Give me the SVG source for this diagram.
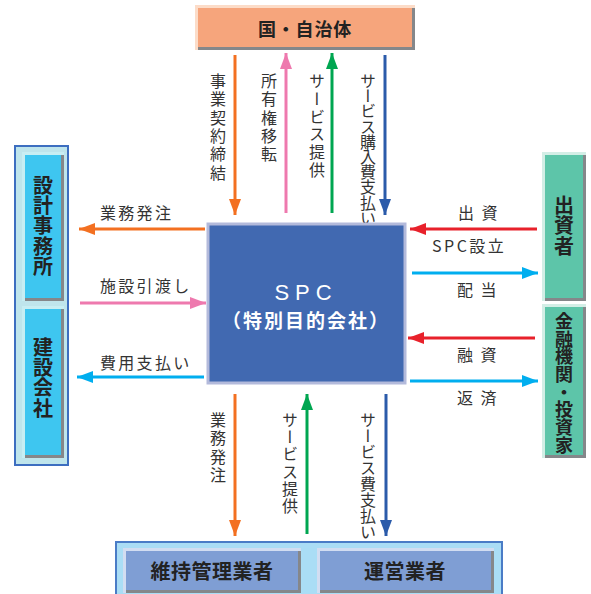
<svg xmlns="http://www.w3.org/2000/svg" width="591" height="594" viewBox="0 0 591 594">
<style>
.lbl{font-family:"Noto Sans CJK JP","Liberation Sans",sans-serif;font-size:16px;fill:#333;}
.v{writing-mode:vertical-rl;}
.nd{font-family:"Noto Sans CJK JP","Liberation Sans",sans-serif;font-weight:700;fill:#222;}
.ln{stroke-width:3;fill:none;}
.sh{fill:#85878a;}
</style>
<defs>
<marker id="mO" viewBox="0 0 16 12" refX="16" refY="6" markerWidth="16" markerHeight="12" markerUnits="userSpaceOnUse" orient="auto"><path d="M0,0L16,6L0,12z" fill="#F37021"/></marker>
<marker id="mP" viewBox="0 0 16 12" refX="16" refY="6" markerWidth="16" markerHeight="12" markerUnits="userSpaceOnUse" orient="auto"><path d="M0,0L16,6L0,12z" fill="#EE79AE"/></marker>
<marker id="mG" viewBox="0 0 16 12" refX="16" refY="6" markerWidth="16" markerHeight="12" markerUnits="userSpaceOnUse" orient="auto"><path d="M0,0L16,6L0,12z" fill="#00A651"/></marker>
<marker id="mB" viewBox="0 0 16 12" refX="16" refY="6" markerWidth="16" markerHeight="12" markerUnits="userSpaceOnUse" orient="auto"><path d="M0,0L16,6L0,12z" fill="#2B5BAA"/></marker>
<marker id="mR" viewBox="0 0 16 12" refX="16" refY="6" markerWidth="16" markerHeight="12" markerUnits="userSpaceOnUse" orient="auto"><path d="M0,0L16,6L0,12z" fill="#E8212B"/></marker>
<marker id="mC" viewBox="0 0 16 12" refX="16" refY="6" markerWidth="16" markerHeight="12" markerUnits="userSpaceOnUse" orient="auto"><path d="M0,0L16,6L0,12z" fill="#00AEEF"/></marker>
</defs>

<g id="connectors">
<line class="ln" stroke="#F37021" x1="235" y1="55" x2="235" y2="215" marker-end="url(#mO)"/>
<line class="ln" stroke="#EE79AE" x1="286" y1="213" x2="286" y2="53" marker-end="url(#mP)"/>
<line class="ln" stroke="#00A651" x1="332" y1="213" x2="332" y2="53" marker-end="url(#mG)"/>
<line class="ln" stroke="#2B5BAA" x1="385" y1="55" x2="385" y2="215" marker-end="url(#mB)"/>
<line class="ln" stroke="#F37021" x1="205" y1="229" x2="79" y2="229" marker-end="url(#mO)"/>
<line class="ln" stroke="#EE79AE" x1="80" y1="303" x2="206" y2="303" marker-end="url(#mP)"/>
<line class="ln" stroke="#00AEEF" x1="204" y1="377" x2="77" y2="377" marker-end="url(#mC)"/>
<line class="ln" stroke="#E8212B" x1="537" y1="229" x2="410" y2="229" marker-end="url(#mR)"/>
<line class="ln" stroke="#00AEEF" x1="412" y1="273" x2="538" y2="273" marker-end="url(#mC)"/>
<line class="ln" stroke="#E8212B" x1="535" y1="338" x2="408" y2="338" marker-end="url(#mR)"/>
<line class="ln" stroke="#00AEEF" x1="410" y1="381" x2="538" y2="381" marker-end="url(#mC)"/>
<line class="ln" stroke="#F37021" x1="235" y1="394" x2="235" y2="536" marker-end="url(#mO)"/>
<line class="ln" stroke="#00A651" x1="307" y1="534" x2="307" y2="394" marker-end="url(#mG)"/>
<line class="ln" stroke="#2B5BAA" x1="386" y1="394" x2="386" y2="536" marker-end="url(#mB)"/>
<text class="lbl v" x="218" y="73" letter-spacing="2.3">事業契約締結</text>
<text class="lbl v" x="269" y="73" letter-spacing="2.3">所有権移転</text>
<text class="lbl v" x="317" y="73" letter-spacing="1.8">サービス提供</text>
<text class="lbl v" x="368" y="73" font-size="15" letter-spacing="-0.8">サービス購入費支払い</text>
<text class="lbl" x="100" y="219" letter-spacing="2.3">業務発注</text>
<text class="lbl" x="100" y="292" letter-spacing="2.3">施設引渡し</text>
<text class="lbl" x="100" y="369" letter-spacing="2.3">費用支払い</text>
<text class="lbl" x="458" y="219" letter-spacing="2">出 資</text>
<text class="lbl" x="432" y="252" letter-spacing="2.5">SPC設立</text>
<text class="lbl" x="457" y="296" letter-spacing="2">配 当</text>
<text class="lbl" x="457" y="361" letter-spacing="2">融 資</text>
<text class="lbl" x="457" y="404" letter-spacing="2">返 済</text>
<text class="lbl v" x="218" y="412" letter-spacing="2.3">業務発注</text>
<text class="lbl v" x="290" y="412" letter-spacing="1.2">サービス提供</text>
<text class="lbl v" x="368" y="412" font-size="15">サービス費支払い</text>
</g>

<g id="node-kuni">
<rect x="195" y="5" width="220" height="45" fill="#FCDCC8"/>
<rect class="sh" x="198" y="8" width="217" height="42"/>
<rect x="198" y="8" width="214" height="39" fill="#F6A57C"/>
<text class="nd" x="305" y="36" font-size="18" text-anchor="middle" letter-spacing="0.8">国・自治体</text>
</g>

<g id="node-spc">
<rect x="208" y="224" width="197" height="159" fill="#4169B1" stroke="#B3BADB" stroke-width="3"/>
<text x="306" y="300" font-family="Liberation Sans,Arial,sans-serif" font-size="22" fill="#fff" text-anchor="middle" letter-spacing="6">SPC</text>
<text x="306" y="328" font-family="Noto Sans CJK JP,sans-serif" font-weight="700" font-size="19" fill="#fff" text-anchor="middle" letter-spacing="2">（特別目的会社）</text>
</g>

<g id="left-panel">
<rect x="15" y="146" width="53" height="319" fill="#BFE5EC" stroke="#3D6EC0" stroke-width="2"/>
</g>
<g id="node-sekkei">
<rect x="22" y="152" width="42" height="149" fill="#C8EEF3"/>
<rect class="sh" x="25" y="155" width="39" height="146"/>
<rect x="25" y="155" width="36" height="143" fill="#3EC6F0"/>
<text class="nd v" x="43" y="175" font-size="20" letter-spacing="0.4">設計事務所</text>
</g>
<g id="node-kensetsu">
<rect x="22" y="306" width="42" height="152" fill="#C8EEF3"/>
<rect class="sh" x="25" y="309" width="39" height="149"/>
<rect x="25" y="309" width="36" height="146" fill="#3EC6F0"/>
<text class="nd v" x="43" y="337" font-size="20" letter-spacing="0.4">建設会社</text>
</g>

<g id="node-shussisha">
<rect x="542" y="152" width="44" height="149" fill="#D3EEE6"/>
<rect class="sh" x="545" y="155" width="41" height="146"/>
<rect x="545" y="155" width="38" height="143" fill="#5DC5A9"/>
<text class="nd v" x="564" y="195" font-size="20" letter-spacing="0.5">出資者</text>
</g>
<g id="node-kinyu">
<rect x="542" y="304" width="44" height="154" fill="#D3EEE6"/>
<rect class="sh" x="545" y="307" width="41" height="151"/>
<rect x="545" y="307" width="38" height="148" fill="#5DC5A9"/>
<text class="nd v" x="564" y="312" font-size="18" letter-spacing="-0.3">金融機関・投資家</text>
</g>

<g id="bottom-panel">
<rect x="116" y="542" width="386" height="60" fill="#AADDF5" stroke="#4A7CC6" stroke-width="2"/>
</g>
<g id="node-iji">
<rect x="123" y="548" width="178" height="45" fill="#D2DDF1"/>
<rect class="sh" x="126" y="551" width="175" height="42"/>
<rect x="126" y="551" width="172" height="39" fill="#7F9ED4"/>
<text class="nd" x="212" y="579" font-size="20" text-anchor="middle" letter-spacing="0.5">維持管理業者</text>
</g>
<g id="node-unei">
<rect x="317" y="548" width="177" height="45" fill="#D2DDF1"/>
<rect class="sh" x="320" y="551" width="174" height="42"/>
<rect x="320" y="551" width="171" height="39" fill="#7F9ED4"/>
<text class="nd" x="405" y="579" font-size="20" text-anchor="middle" letter-spacing="0.5">運営業者</text>
</g>
</svg>
